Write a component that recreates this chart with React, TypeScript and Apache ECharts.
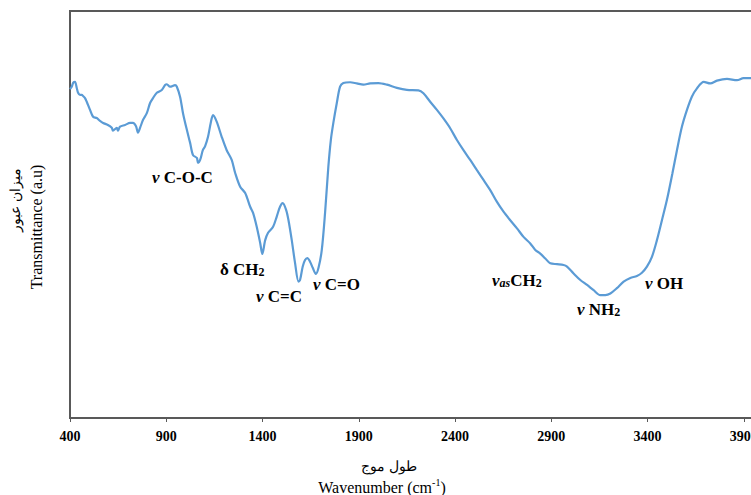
import React, { useEffect, useRef } from "react";
import * as echarts from "echarts";

const wavenumber = [
  400, 409, 417, 426, 435, 442, 452, 461, 468, 478, 487, 504, 520, 539, 556, 572, 597, 617, 623, 643,
  649, 660, 686, 712, 727, 743, 753, 764, 779, 799, 816, 831, 851, 877, 894, 903, 920, 946, 955, 972,
  987, 1007, 1024, 1039, 1059, 1065, 1076, 1090, 1102, 1117, 1131, 1143, 1162, 1188, 1214, 1240, 1258, 1284, 1310, 1336,
  1351, 1370, 1388, 1399, 1414, 1429, 1455, 1474, 1491, 1505, 1523, 1535, 1552, 1569, 1587, 1595, 1609, 1621, 1633, 1647,
  1661, 1677, 1691, 1708, 1725, 1742, 1755, 1768, 1786, 1803, 1820, 1855, 1890, 1924, 1959, 2002, 2046, 2098, 2150, 2210,
  2236, 2271, 2306, 2340, 2375, 2410, 2444, 2479, 2514, 2548, 2583, 2618, 2652, 2687, 2722, 2756, 2791, 2817, 2843, 2869,
  2895, 2930, 2964, 2982, 3016, 3051, 3086, 3120, 3155, 3181, 3207, 3241, 3276, 3311, 3345, 3371, 3397, 3423, 3449, 3475,
  3501, 3529, 3553, 3579, 3605, 3631, 3657, 3692, 3726, 3761, 3813, 3865, 3899, 3934, 3970, 4000,
];

const transmittance = [
  80.8, 81.4, 82.4, 82.6, 81.1, 79.9, 79.4, 79.4, 79.1, 78.6, 77.7, 75.7, 74.0, 73.7, 73.0, 72.5, 72.0, 71.3, 70.6, 71.3,
  70.6, 71.6, 72.0, 72.5, 72.5, 71.7, 70.1, 71.3, 73.2, 74.9, 77.4, 78.6, 79.9, 80.6, 81.8, 82.0, 81.4, 81.8, 81.4, 78.9,
  74.9, 70.8, 67.6, 64.6, 63.9, 62.7, 63.4, 65.8, 66.8, 69.1, 72.5, 74.4, 72.8, 69.1, 65.8, 63.4, 60.2, 56.8, 55.3, 51.9,
  50.4, 47.0, 43.0, 40.3, 43.7, 45.5, 47.0, 49.5, 51.9, 52.8, 51.1, 48.6, 43.7, 38.1, 33.5, 33.9, 37.2, 38.8, 39.3, 38.4,
  36.9, 35.4, 36.9, 41.3, 50.4, 61.7, 68.3, 72.5, 77.4, 81.4, 82.3, 82.5, 82.2, 81.9, 82.2, 82.3, 81.9, 81.1, 80.6, 80.5,
  79.8, 77.7, 75.7, 73.6, 71.2, 68.3, 65.8, 63.4, 60.9, 58.5, 56.0, 53.1, 50.7, 48.6, 46.6, 44.5, 42.9, 41.3, 40.4, 39.2,
  38.0, 37.8, 37.6, 37.2, 35.5, 33.9, 32.7, 31.4, 30.2, 30.2, 30.6, 31.9, 33.5, 34.4, 34.9, 35.7, 37.2, 39.6, 43.7, 48.6,
  53.6, 60.0, 65.8, 71.6, 75.7, 79.0, 81.0, 82.6, 82.2, 82.9, 83.3, 83.0, 83.5, 83.5, 83.4, 83.5,
];

const xTickStart = 400;
const xTickStep = 500;
const xMax = 4000;

const yTitleFa = "ميزان عبور";
const yTitleEn = "Transmittance (a.u)";
const xTitleFa = "طول موج";

const SERIF = '"Times New Roman", "Liberation Serif", "DejaVu Serif", serif';
const AXIS_COLOR = "#595959";

const richStyles = {
  n: { fontFamily: SERIF, fontSize: 17, fontWeight: "bold", fontStyle: "italic", lineHeight: 18, fill: "#000" },
  b: { fontFamily: SERIF, fontSize: 17, fontWeight: "bold", lineHeight: 18, fill: "#000" },
  s: { fontFamily: SERIF, fontSize: 12, fontWeight: "bold", lineHeight: 11, verticalAlign: "bottom", fill: "#000" },
  si: { fontFamily: SERIF, fontSize: 12, fontWeight: "bold", fontStyle: "italic", lineHeight: 11, verticalAlign: "bottom", fill: "#000" },
};

const annotations = [
  { text: "{n|ν}{b| C-O-C}", x: 152, y: 177 },
  { text: "{b|δ CH}{s|2}", x: 220, y: 269 },
  { text: "{n|ν}{b| C=C}", x: 256, y: 296 },
  { text: "{n|ν}{b| C=O}", x: 313, y: 284 },
  { text: "{n|ν}{si|as}{b|CH}{s|2}", x: 492, y: 280 },
  { text: "{n|ν}{b| NH}{s|2}", x: 577, y: 309 },
  { text: "{n|ν}{b| OH}", x: 645, y: 283 },
];

export default function App() {
  const ref = useRef<HTMLDivElement>(null);

  useEffect(() => {
    if (!ref.current) return;
    const chart = echarts.init(ref.current, null, { renderer: "svg" });
    const data = wavenumber.map((w, i) => [w, transmittance[i]]);

    const graphics: any[] = annotations.map((a) => ({
      type: "text",
      x: a.x,
      y: a.y,
      style: {
        text: a.text,
        rich: richStyles,
        align: "left",
        verticalAlign: "middle",
      },
    }));

    graphics.push(
      {
        type: "text",
        x: 15,
        y: 200,
        rotation: Math.PI / 2,
        style: {
          text: yTitleFa,
          font: `14px ${SERIF}`,
          fill: "#000",
          align: "center",
          verticalAlign: "middle",
        },
      },
      {
        type: "text",
        x: 36,
        y: 227,
        rotation: Math.PI / 2,
        style: {
          text: yTitleEn,
          font: `16px ${SERIF}`,
          fill: "#000",
          align: "center",
          verticalAlign: "middle",
        },
      },
      {
        type: "text",
        x: 389,
        y: 466,
        style: {
          text: xTitleFa,
          font: `14px ${SERIF}`,
          fill: "#000",
          align: "center",
          verticalAlign: "middle",
        },
      },
      {
        type: "text",
        x: 382,
        y: 487,
        style: {
          text: "{r|Wavenumber (cm}{u|-1}{r|)}",
          rich: {
            r: { fontFamily: SERIF, fontSize: 16, lineHeight: 20, fill: "#000" },
            u: { fontFamily: SERIF, fontSize: 10, lineHeight: 12, verticalAlign: "top", fill: "#000" },
          },
          align: "center",
          verticalAlign: "middle",
        },
      }
    );

    chart.setOption({
      animation: false,
      backgroundColor: "#ffffff",
      grid: {
        left: 70,
        top: 11,
        width: 693,
        height: 407,
        show: true,
        borderColor: AXIS_COLOR,
        borderWidth: 2,
        containLabel: false,
        outerBoundsMode: "none",
      },
      xAxis: {
        type: "value",
        min: xTickStart,
        max: xMax,
        interval: xTickStep,
        axisLine: { show: true, lineStyle: { color: AXIS_COLOR, width: 2 } },
        axisTick: { show: true, length: 4, inside: false, lineStyle: { color: AXIS_COLOR, width: 1 } },
        axisLabel: {
          show: true,
          showMaxLabel: false,
          margin: 11,
          color: "#000",
          fontWeight: "bold",
          fontSize: 14,
          fontFamily: SERIF,
          formatter: (v: number) => String(v),
        },
        splitLine: { show: false },
      },
      yAxis: {
        type: "value",
        min: 0,
        max: 100,
        axisLine: { show: true, lineStyle: { color: AXIS_COLOR, width: 2 } },
        axisTick: { show: false },
        axisLabel: { show: false },
        splitLine: { show: false },
      },
      series: [
        {
          type: "line",
          data,
          showSymbol: false,
          smooth: 0.3,
          lineStyle: { color: "#5B9BD5", width: 2.2 },
          silent: true,
        },
      ],
      graphic: graphics,
    });

    return () => chart.dispose();
  }, []);

  return (
    <div
      ref={ref}
      style={{ position: "fixed", left: 0, top: 0, width: 751, height: 495, background: "#fff" }}
    />
  );
}
